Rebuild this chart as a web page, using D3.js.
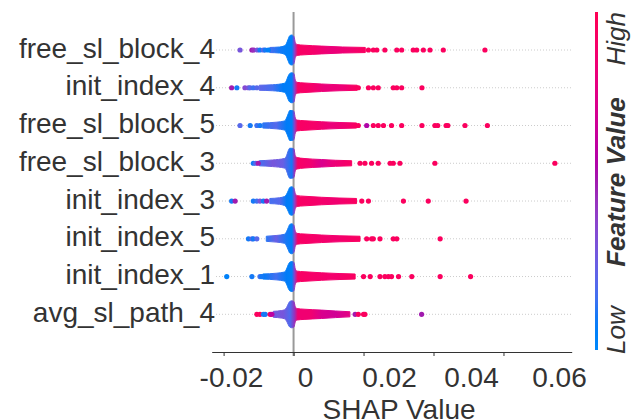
<!DOCTYPE html>
<html>
<head>
<meta charset="utf-8">
<script src="https://cdn.jsdelivr.net/npm/d3@7/dist/d3.min.js"></script>
<style>
body { margin: 0; background: #fff; }
text { font-family: "Liberation Sans", Arial, sans-serif; fill: #333; }
</style>
</head>
<body>
<script>
//feature names, top row first
var features = ["free_sl_block_4", "init_index_4", "free_sl_block_5", "free_sl_block_3",
    "init_index_3", "init_index_5", "init_index_1", "avg_sl_path_4"];

var xTicks = [-0.02, 0, 0.02, 0.04, 0.06];

//density of the swarm along each row: [shap value, relative half thickness]
var profiles = [
    [[-0.0068, 0.17], [-0.004, 0.2], [-0.0026, 0.28], [-0.002, 0.45], [-0.0015, 0.75], [-0.0011, 0.95], [-0.0005, 1], [0.0001, 0.9], [0.0005, 0.5], [0.001, 0.36], [0.003, 0.32], [0.008, 0.26], [0.014, 0.2], [0.0205, 0.17]],
    [[-0.0098, 0.17], [-0.006, 0.2], [-0.0026, 0.3], [-0.002, 0.5], [-0.0015, 0.8], [-0.0011, 0.95], [-0.0005, 1], [0.0001, 0.95], [0.0005, 0.5], [0.001, 0.36], [0.003, 0.32], [0.008, 0.25], [0.013, 0.2], [0.0182, 0.17]],
    [[-0.0088, 0.17], [-0.005, 0.22], [-0.0026, 0.3], [-0.002, 0.5], [-0.0015, 0.8], [-0.0011, 1], [-0.0005, 1], [0.0001, 0.95], [0.0005, 0.5], [0.001, 0.36], [0.003, 0.32], [0.008, 0.25], [0.013, 0.2], [0.018, 0.17]],
    [[-0.0098, 0.17], [-0.006, 0.22], [-0.0026, 0.32], [-0.002, 0.5], [-0.0015, 0.85], [-0.0011, 1], [-0.0005, 1], [0.0001, 0.95], [0.0005, 0.5], [0.001, 0.38], [0.003, 0.32], [0.008, 0.25], [0.012, 0.2], [0.0166, 0.17]],
    [[-0.0068, 0.17], [-0.004, 0.22], [-0.0026, 0.3], [-0.002, 0.45], [-0.0015, 0.7], [-0.0011, 0.9], [-0.0005, 0.95], [0.0001, 0.85], [0.0005, 0.5], [0.001, 0.36], [0.003, 0.32], [0.008, 0.25], [0.013, 0.2], [0.018, 0.17]],
    [[-0.0078, 0.17], [-0.005, 0.22], [-0.0026, 0.3], [-0.002, 0.48], [-0.0015, 0.75], [-0.0011, 0.95], [-0.0005, 1], [0.0001, 0.9], [0.0005, 0.5], [0.001, 0.36], [0.003, 0.32], [0.008, 0.25], [0.013, 0.2], [0.019, 0.17]],
    [[-0.0088, 0.17], [-0.005, 0.22], [-0.0026, 0.3], [-0.002, 0.5], [-0.0015, 0.8], [-0.0011, 0.95], [-0.0005, 1], [0.0001, 0.95], [0.0005, 0.5], [0.001, 0.36], [0.003, 0.32], [0.008, 0.25], [0.013, 0.2], [0.0176, 0.17]],
    [[-0.0058, 0.2], [-0.0035, 0.25], [-0.0026, 0.3], [-0.002, 0.45], [-0.0015, 0.7], [-0.0011, 0.85], [-0.0005, 0.9], [0.0001, 0.85], [0.0005, 0.5], [0.001, 0.38], [0.003, 0.34], [0.008, 0.28], [0.012, 0.22], [0.0161, 0.17]]
];

//mean feature value (0 low .. 1 high) along each dense band: [shap value, feature value]
var bandTones = [
    [[-0.007, 0.18], [-0.004, 0.1], [-0.002, 0.06], [-0.0005, 0.06], [0.0003, 0.4], [0.0012, 0.93], [0.005, 0.9], [0.011, 0.82], [0.016, 0.86], [0.0205, 0.94]],
    [[-0.0098, 0.22], [-0.006, 0.16], [-0.003, 0.08], [-0.0005, 0.06], [0.0003, 0.4], [0.0012, 0.93], [0.005, 0.9], [0.009, 0.82], [0.014, 0.84], [0.018, 0.94]],
    [[-0.0088, 0.12], [-0.005, 0.2], [-0.002, 0.08], [-0.0005, 0.06], [0.0003, 0.4], [0.0012, 0.93], [0.006, 0.9], [0.011, 0.82], [0.015, 0.86], [0.018, 0.94]],
    [[-0.0098, 0.16], [-0.006, 0.3], [-0.003, 0.25], [-0.0005, 0.1], [0.0003, 0.45], [0.0012, 0.92], [0.005, 0.86], [0.008, 0.72], [0.011, 0.82], [0.0166, 0.93]],
    [[-0.0068, 0.16], [-0.004, 0.2], [-0.002, 0.08], [-0.0005, 0.06], [0.0003, 0.4], [0.0012, 0.93], [0.006, 0.9], [0.012, 0.86], [0.018, 0.94]],
    [[-0.0078, 0.12], [-0.005, 0.25], [-0.002, 0.1], [-0.0005, 0.06], [0.0003, 0.4], [0.0012, 0.93], [0.006, 0.9], [0.012, 0.87], [0.019, 0.94]],
    [[-0.0088, 0.08], [-0.005, 0.16], [-0.002, 0.08], [-0.0005, 0.05], [0.0003, 0.4], [0.0012, 0.93], [0.006, 0.9], [0.012, 0.88], [0.0176, 0.94]],
    [[-0.0058, 0.28], [-0.003, 0.3], [-0.001, 0.18], [0.0003, 0.45], [0.0012, 0.86], [0.005, 0.86], [0.008, 0.72], [0.012, 0.68], [0.0161, 0.78]]
];

//single points outside the dense bands: [shap value, feature value]
var outliers = [
    [[-0.0153, 0.3], [-0.0119, 0.5], [-0.0114, 0.45], [-0.0104, 0.3], [-0.0096, 0.1], [-0.0086, 0.2], [-0.0081, 0.1], [-0.0072, 0.05],
     [0.0214, 0.95], [0.0228, 0.95], [0.0238, 0.95], [0.0261, 0.95], [0.0295, 0.95], [0.0309, 0.95], [0.0342, 0.95], [0.0352, 0.95], [0.0371, 0.95], [0.039, 0.95], [0.0428, 0.95], [0.0547, 0.95]],
    [[-0.0177, 0.5], [-0.0162, 0.1], [-0.0139, 0.35], [-0.0129, 0.3], [-0.0124, 0.2], [-0.0115, 0.15], [-0.0105, 0.2],
     [0.0185, 0.95], [0.0214, 0.95], [0.0228, 0.95], [0.0242, 0.95], [0.0285, 0.95], [0.0295, 0.95], [0.0309, 0.95], [0.0367, 0.95]],
    [[-0.0153, 0.2], [-0.0124, 0.1], [-0.0105, 0.15], [-0.0096, 0.1],
     [0.0185, 0.95], [0.0209, 0.55], [0.0228, 0.95], [0.0242, 0.95], [0.0257, 0.95], [0.028, 0.95], [0.0309, 0.95], [0.0367, 0.95], [0.0404, 0.95], [0.0412, 0.95], [0.0436, 0.95], [0.0441, 0.95], [0.049, 0.95], [0.0554, 0.95]],
    [[-0.0115, 0.1], [-0.0108, 0.2], [-0.0101, 0.5],
     [0.019, 0.95], [0.0204, 0.95], [0.0223, 0.95], [0.0242, 0.95], [0.0276, 0.95], [0.0285, 0.95], [0.0304, 0.95], [0.0404, 0.95], [0.0747, 0.95]],
    [[-0.0177, 0.1], [-0.0167, 0.5], [-0.0115, 0.1], [-0.0105, 0.15], [-0.0096, 0.3], [-0.0086, 0.1], [-0.0077, 0.5],
     [0.0195, 0.95], [0.0214, 0.95], [0.0314, 0.95], [0.0385, 0.95], [0.0493, 0.95]],
    [[-0.0129, 0.1], [-0.0119, 0.2], [-0.0115, 0.1], [-0.0105, 0.2],
     [0.0209, 0.95], [0.0223, 0.95], [0.0228, 0.95], [0.0247, 0.95], [0.0285, 0.95], [0.0295, 0.95], [0.0419, 0.95]],
    [[-0.0191, 0.05], [-0.0119, 0.1], [-0.0096, 0.15], [-0.0091, 0.1],
     [0.02, 0.95], [0.0219, 0.95], [0.0247, 0.95], [0.0261, 0.95], [0.0271, 0.95], [0.028, 0.95], [0.03, 0.95], [0.0338, 0.95], [0.0419, 0.95], [0.0506, 0.95]],
    [[-0.0105, 0.95], [-0.0096, 0.95], [-0.0086, 0.1], [-0.0081, 0.1], [-0.0067, 0.95], [-0.0062, 0.6],
     [0.0176, 0.5], [0.0185, 0.95], [0.02, 0.95], [0.0204, 0.95], [0.0366, 0.5]]
];

var width = 633,
    height = 420,
    maxHalf = 15,   //half height of the tallest pile, px
    dotR = 2.6;

//shap's red_blue map: lch blend blue -> purple -> red
function featureColor(t) {
    var l = t < 0.5 ? 54 - 28 * t : 40 + 28 * (t - 0.5);
    return d3.hcl(267 + 113 * t, 70 + 20 * t, l).formatHex();
}

var svg = d3.select("body").append("svg")
    .attr("width", width)
    .attr("height", height);

var defs = svg.append("defs");

var x = d3.scaleLinear()
    .domain([-0.0234, 0.0795])
    .range([211.7, 571.7]);

var y = d3.scalePoint()
    .domain(features)
    .range([50, 314.3]);

//tick labels sit to the right of their ticks in the original
var tickLabelX = d3.scaleLinear()
    .domain(xTicks)
    .range([231, 305, 389, 471, 559]);

//dotted row guides
svg.append("g").selectAll("line")
    .data(features)
    .enter().append("line")
    .attr("x1", 216)
    .attr("x2", 572)
    .attr("y1", function(d) { return y(d); })
    .attr("y2", function(d) { return y(d); })
    .attr("stroke", "#cccccc")
    .attr("stroke-width", 1)
    .attr("stroke-dasharray", "1,2");

//zero line
svg.append("line")
    .attr("x1", x(0)).attr("x2", x(0))
    .attr("y1", 12).attr("y2", 356)
    .attr("stroke", "#999")
    .attr("stroke-width", 2);

//feature labels
svg.append("g").selectAll("text")
    .data(features)
    .enter().append("text")
    .attr("x", 215)
    .attr("y", function(d) { return y(d); })
    .attr("dy", "0.27em")
    .attr("text-anchor", "end")
    .style("font-size", "28px")
    .text(function(d) { return d; });

//dense bands of the swarm
var area = d3.area()
    .x(function(d) { return x(d[0]); })
    .y0(function(d) { return -d[1] * maxHalf; })
    .y1(function(d) { return d[1] * maxHalf; })
    .curve(d3.curveMonotoneX);

features.forEach(function(f, i) {
    var grad = defs.append("linearGradient")
        .attr("id", "band" + i)
        .attr("gradientUnits", "userSpaceOnUse")
        .attr("x1", 0).attr("x2", width)
        .attr("y1", 0).attr("y2", 0);
    grad.selectAll("stop")
        .data(bandTones[i])
        .enter().append("stop")
        .attr("offset", function(d) { return x(d[0]) / width; })
        .attr("stop-color", function(d) { return featureColor(d[1]); });

    var row = svg.append("g")
        .attr("transform", "translate(0," + y(f) + ")");

    row.append("path")
        .datum(profiles[i])
        .attr("d", area)
        .attr("fill", "url(#band" + i + ")")
        .attr("stroke", "url(#band" + i + ")")
        .attr("stroke-width", 1)
        .attr("stroke-linejoin", "round");

    row.selectAll("circle")
        .data(outliers[i])
        .enter().append("circle")
        .attr("cx", function(d) { return x(d[0]); })
        .attr("cy", 0)
        .attr("r", dotR)
        .attr("fill", function(d) { return featureColor(d[1]); });
});

//x axis
var xAxis = svg.append("g")
    .attr("transform", "translate(0,352)")
    .call(d3.axisBottom(x)
        .tickValues(xTicks)
        .tickSize(4)
        .tickSizeOuter(0)
        .tickFormat(function(d) { return String(d); }));

xAxis.select(".domain").attr("stroke", "#333");
xAxis.selectAll(".tick line").attr("stroke", "#333");
xAxis.selectAll(".tick text")
    .attr("x", function(d) { return tickLabelX(d) - x(d); })
    .attr("y", 15)
    .style("font-size", "28px")
    .style("font-family", "'Liberation Sans', Arial, sans-serif")
    .attr("fill", "#333");

svg.append("text")
    .attr("x", 399)
    .attr("y", 419)
    .attr("text-anchor", "middle")
    .style("font-size", "28px")
    .text("SHAP Value");

//colour bar
var cbGrad = defs.append("linearGradient")
    .attr("id", "cbar")
    .attr("x1", 0).attr("x2", 0)
    .attr("y1", 1).attr("y2", 0);
cbGrad.selectAll("stop")
    .data(d3.range(0, 1.0001, 0.05))
    .enter().append("stop")
    .attr("offset", function(d) { return d; })
    .attr("stop-color", function(d) { return featureColor(d); });

svg.append("rect")
    .attr("x", 595)
    .attr("y", 12)
    .attr("width", 3)
    .attr("height", 338)
    .attr("fill", "url(#cbar)");

var cbLabels = [
    {text: "Low", y: 354, anchor: "start", weight: "normal"},
    {text: "Feature Value", y: 182, anchor: "middle", weight: "bold"},
    {text: "High", y: 12, anchor: "end", weight: "normal"}
];

svg.append("g").selectAll("text")
    .data(cbLabels)
    .enter().append("text")
    .attr("transform", function(d) { return "translate(625," + d.y + ") rotate(-90)"; })
    .attr("text-anchor", function(d) { return d.anchor; })
    .style("font-size", "26px")
    .style("font-style", "italic")
    .style("font-weight", function(d) { return d.weight; })
    .text(function(d) { return d.text; });
</script>
</body>
</html>
